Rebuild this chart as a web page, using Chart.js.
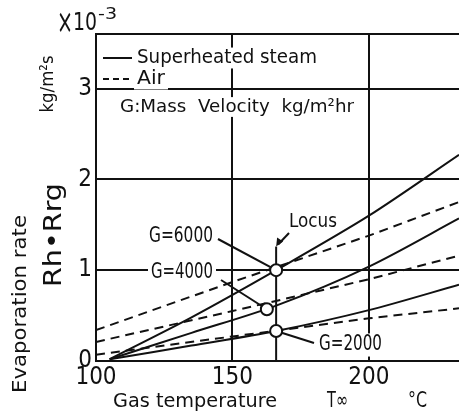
<!DOCTYPE html>
<html>
<head>
<meta charset="utf-8">
<script src="https://cdn.jsdelivr.net/npm/chart.js@4"></script>
<style>
  html, body { margin: 0; padding: 0; background: #fff; }
  canvas { display: block; }
</style>
</head>
<body>
<canvas id="chart" width="459" height="416"></canvas>
<script>
// Datos
const steamT = [105, 135, 166, 200, 233];
const steam6000 = [0.02, 0.48, 1.00, 1.60, 2.27];
const steam4000 = [0.02, 0.31, 0.61, 1.04, 1.57];
const steam2000 = [0.02, 0.17, 0.33, 0.56, 0.84];

const airT = [100, 150, 200, 233];
const air6000 = [0.34, 0.87, 1.38, 1.75];
const air4000 = [0.21, 0.55, 0.90, 1.16];
const air2000 = [0.07, 0.27, 0.47, 0.58];

const circleT = [166, 162.6, 166];
const circleRate = [1.00, 0.57, 0.33];
const locusLineT = [166, 166];
const locusLineRate = [0, 1.26];

const xTicks = [100, 150, 200];
const yTicks = [0, 1, 2, 3];
const xMin = 100, xMax = 233;
const yMin = 0, yMax = 3.6;

const INK = '#111';
const NARROW = '"Liberation Sans Narrow", "DejaVu Sans Condensed", sans-serif';

function pts(xs, ys) {
  return xs.map((x, i) => ({ x: x, y: ys[i] }));
}

function solid(ys) {
  return { data: pts(steamT, ys), borderColor: INK, borderWidth: 2, pointRadius: 0, tension: 0.3, fill: false };
}
function dashed(ys) {
  return { data: pts(airT, ys), borderColor: INK, borderWidth: 2, borderDash: [9, 6], pointRadius: 0, tension: 0, fill: false };
}

// Texto ajustado a un ancho dado
function fitText(ctx, s, x, y, size, w, opts) {
  opts = opts || {};
  ctx.save();
  ctx.font = size + 'px ' + (opts.family || '"DejaVu Sans"');
  const m = ctx.measureText(s).width;
  ctx.translate(x, y);
  if (opts.rotate) ctx.rotate(-Math.PI / 2);
  ctx.textBaseline = 'middle';
  ctx.textAlign = opts.rotate ? 'center' : 'left';
  if (opts.white) {
    ctx.fillStyle = '#fff';
    ctx.fillRect(-3, -size * 0.55, w + 6, size * 1.1);
  }
  ctx.scale(w / m, 1);
  ctx.fillStyle = INK;
  ctx.fillText(s, 0, 0);
  ctx.restore();
}

function seg(ctx, x1, y1, x2, y2, dash) {
  ctx.save();
  ctx.strokeStyle = INK;
  ctx.lineWidth = 2;
  ctx.setLineDash(dash || []);
  ctx.beginPath();
  ctx.moveTo(x1, y1);
  ctx.lineTo(x2, y2);
  ctx.stroke();
  ctx.restore();
}

const annotations = {
  id: 'annotations',
  beforeDatasetsDraw(chart) {
    const ctx = chart.ctx;
    const xs = chart.scales.x, ys = chart.scales.y;
    const px = (i) => xs.getPixelForValue(circleT[i]);
    const py = (i) => ys.getPixelForValue(circleRate[i]);

    // Leyenda
    seg(ctx, 103, 58, 132, 58);
    seg(ctx, 103, 79, 132, 79, [6, 4]);
    fitText(ctx, 'Superheated steam', 137, 58, 19, 180, { white: true });
    fitText(ctx, 'Air', 137, 79, 19, 28, { white: true });
    fitText(ctx, 'G:Mass  Velocity  kg/m\u00b2hr', 120, 107, 18, 234, { white: true });

    // Etiquetas y flechas
    seg(ctx, 218, 239, px(0), py(0));
    seg(ctx, 221, 280, px(1), py(1));
    seg(ctx, 314, 343, px(2), py(2));
    fitText(ctx, 'G=6000', 149, 237, 21, 64, { white: true });
    fitText(ctx, 'G=4000', 151, 273, 21, 62, { white: true });
    fitText(ctx, 'G=2000', 319, 345, 21, 63, { white: true });
    fitText(ctx, 'Locus', 289, 222, 19, 48);

    const ax = xs.getPixelForValue(locusLineT[1]);
    const ay = ys.getPixelForValue(locusLineRate[1]);
    seg(ctx, 289, 233, ax + 2, ay - 2);
    ctx.save();
    ctx.fillStyle = INK;
    ctx.beginPath();
    ctx.moveTo(ax, ay);
    ctx.lineTo(ax + 1, ay - 9);
    ctx.lineTo(ax + 7, ay - 5);
    ctx.closePath();
    ctx.fill();
    ctx.restore();

    // Titulos de ejes
    fitText(ctx, '\u00d7', 57, 24, 34, 16, { family: NARROW });
    fitText(ctx, '10', 73, 23, 25, 24, { family: NARROW });
    fitText(ctx, '-3', 98, 15, 15, 19);
    fitText(ctx, 'Gas temperature', 113, 402, 20, 164);
    fitText(ctx, 'T\u221e', 327, 402, 21, 21);
    fitText(ctx, '\u00b0C', 408, 402, 21, 19);
    fitText(ctx, 'Evaporation rate', 21, 304, 19, 178, { rotate: true });
    fitText(ctx, 'Rh\u2022Rrg', 54, 235, 25, 104, { rotate: true });
    fitText(ctx, 'kg/m\u00b2s', 48, 84, 18, 57, { rotate: true });
  }
};

const chart = new Chart(document.getElementById('chart'), {
  type: 'line',
  data: {
    datasets: [
      {
        type: 'scatter',
        data: pts(circleT, circleRate),
        pointRadius: 6,
        pointBackgroundColor: '#fff',
        pointBorderColor: INK,
        pointBorderWidth: 2,
        showLine: false
      },
      solid(steam6000),
      solid(steam4000),
      solid(steam2000),
      dashed(air6000),
      dashed(air4000),
      dashed(air2000),
      { data: pts(locusLineT, locusLineRate), borderColor: INK, borderWidth: 2, pointRadius: 0 }
    ]
  },
  options: {
    responsive: false,
    animation: false,
    devicePixelRatio: 1,
    layout: { autoPadding: false, padding: { top: 34, right: 0, left: 0, bottom: 0 } },
    plugins: { legend: { display: false }, tooltip: { enabled: false } },
    scales: {
      x: {
        type: 'linear',
        min: xMin,
        max: xMax,
        afterBuildTicks: (s) => { s.ticks = xTicks.map(v => ({ value: v })); },
        afterFit: (s) => { s.height = 55; s.paddingRight = 0; s.paddingLeft = 0; },
        grid: { color: INK, lineWidth: 2, drawTicks: false },
        border: { display: true, color: INK, width: 2 },
        ticks: { color: INK, padding: 2, font: { family: NARROW, size: 24 } }
      },
      y: {
        min: yMin,
        max: yMax,
        afterBuildTicks: (s) => { s.ticks = yTicks.concat([yMax]).map(v => ({ value: v })); },
        afterFit: (s) => { s.width = 96; s.paddingTop = 0; s.paddingBottom = 0; },
        grid: { color: INK, lineWidth: 2, drawTicks: false },
        border: { display: true, color: INK, width: 2 },
        ticks: {
          color: INK,
          padding: 4,
          font: { family: NARROW, size: 24 },
          callback: (v) => (yTicks.includes(v) ? String(v) : '')
        }
      }
    }
  },
  plugins: [annotations]
});
</script>
</body>
</html>
